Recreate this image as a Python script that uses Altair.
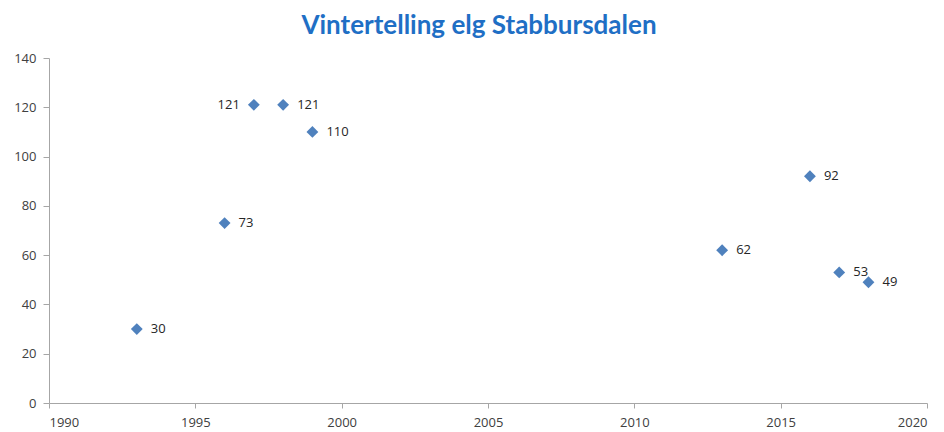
import altair as alt
import pandas as pd

years = [1993, 1996, 1997, 1998, 1999, 2013, 2016, 2017, 2018]
counts = [30, 73, 121, 121, 110, 62, 92, 53, 49]
label_side = ["right", "right", "left", "right", "right", "right", "right", "right", "right"]

df = pd.DataFrame({"year": years, "count": counts, "side": label_side})

FONT = "Open Sans"
x = alt.X("year:Q", scale=alt.Scale(domain=[1990, 2020], nice=False),
          axis=alt.Axis(values=[1990, 1995, 2000, 2005, 2010, 2015, 2020], format="d",
                        grid=False, title=None, domainColor="#a6a6a6", tickColor="#a6a6a6",
                        tickSize=5, labelFont=FONT, labelFontSize=13, labelColor="#404040",
                        labelPadding=8))
y = alt.Y("count:Q", scale=alt.Scale(domain=[0, 140], nice=False),
          axis=alt.Axis(values=list(range(0, 141, 20)), grid=False, title=None,
                        domainColor="#a6a6a6", tickColor="#a6a6a6", tickSize=6,
                        labelFont=FONT, labelFontSize=13, labelColor="#404040", labelPadding=7))

points = alt.Chart(df).mark_point(shape="diamond", filled=True, size=140, opacity=1,
                                  color="#4f81bd").encode(x=x, y=y)

right = alt.Chart(df).transform_filter(alt.datum.side == "right").mark_text(
    align="left", baseline="middle", dx=14, font=FONT, fontSize=13, color="#262626"
).encode(x="year:Q", y="count:Q", text="count:Q")
left = alt.Chart(df).transform_filter(alt.datum.side == "left").mark_text(
    align="right", baseline="middle", dx=-14, font=FONT, fontSize=13, color="#262626"
).encode(x="year:Q", y="count:Q", text="count:Q")

chart = alt.layer(points, right, left).properties(
    width=878, height=345,
    title=alt.TitleParams("Vintertelling elg Stabbursdalen", font="Lato", fontSize=26,
                          fontWeight="bold", color="#1f6fc5", anchor="middle", offset=13,
                          dx=-9),
    autosize=alt.AutoSizeParams(type="none"),
    padding={"left": 41, "top": 50, "right": 9, "bottom": 27},
).configure(background="white").configure_view(strokeWidth=0, stroke="transparent")

chart.save("out.html", embed_options={"renderer": "svg", "actions": False})
